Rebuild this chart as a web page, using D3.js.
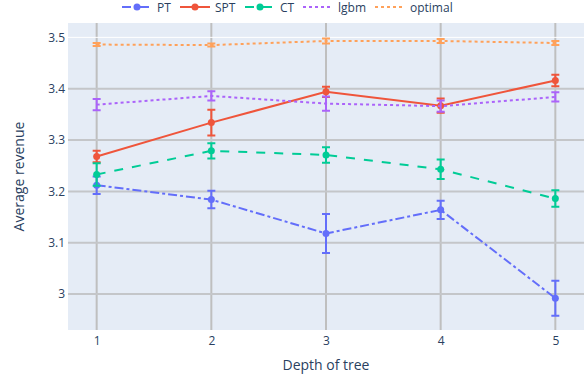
<!DOCTYPE html>
<html>
<head>
<meta charset="utf-8">
<script src="https://cdn.jsdelivr.net/npm/d3@7"></script>
<style>
  body { margin: 0; background: #fff; }
  svg text { font-family: "Open Sans", sans-serif; fill: #2a3f5f; }
</style>
</head>
<body>
<svg width="584" height="377"></svg>
<script>
// depth of tree on x, average revenue on y
var depth = [1, 2, 3, 4, 5];

var ptVals = [3.212, 3.184, 3.118, 3.164, 2.992];
var ptErr = [0.017, 0.017, 0.038, 0.018, 0.034];
var sptVals = [3.268, 3.334, 3.394, 3.367, 3.416];
var sptErr = [0.011, 0.025, 0.010, 0.014, 0.011];
var ctVals = [3.233, 3.279, 3.271, 3.243, 3.186];
var ctErr = [0.022, 0.015, 0.015, 0.019, 0.016];
var lgbmVals = [3.369, 3.386, 3.371, 3.366, 3.384];
var lgbmErr = [0.011, 0.009, 0.014, 0.011, 0.009];
var optVals = [3.486, 3.485, 3.493, 3.493, 3.489];
var optErr = [0.003, 0.003, 0.005, 0.004, 0.004];

var yTicks = [3, 3.1, 3.2, 3.3, 3.4, 3.5];

var series = [
  {name: "PT", vals: ptVals, err: ptErr, color: "#636efa", dash: "9,3,3,3", marker: true},
  {name: "SPT", vals: sptVals, err: sptErr, color: "#EF553B", dash: null, marker: true},
  {name: "CT", vals: ctVals, err: ctErr, color: "#00cc96", dash: "9,9", marker: true},
  {name: "lgbm", vals: lgbmVals, err: lgbmErr, color: "#ab63fa", dash: "3,3", marker: false},
  {name: "optimal", vals: optVals, err: optErr, color: "#FFA15A", dash: "3,3", marker: false}
];
// legend item offsets (px)
var legendX = [0, 58, 123, 181, 253];

var svg = d3.select("svg"),
    margin = {top: 23, right: 0, bottom: 47, left: 68},
    width = +svg.attr("width") - margin.left - margin.right,
    height = +svg.attr("height") - margin.top - margin.bottom;

var x = d3.scaleLinear().domain([0.75, 5.25]).range([0, width]);
var y = d3.scaleLinear().domain([2.93, 3.528]).range([height, 0]);

var g = svg.append("g")
    .attr("transform", "translate(" + margin.left + "," + margin.top + ")");

g.append("rect")
    .attr("width", width)
    .attr("height", height)
    .attr("fill", "#E5ECF6");

// grid
g.selectAll(".vgrid")
    .data(depth)
  .enter().append("line")
    .attr("x1", function(d) { return x(d); })
    .attr("x2", function(d) { return x(d); })
    .attr("y1", 0)
    .attr("y2", height)
    .attr("stroke", "#bfbfbf")
    .attr("stroke-width", 2);

g.selectAll(".hgrid")
    .data(yTicks)
  .enter().append("line")
    .attr("x1", 0)
    .attr("x2", width)
    .attr("y1", function(d) { return y(d); })
    .attr("y2", function(d) { return y(d); })
    .attr("stroke", function(d) { return d === 3.5 ? "#ffffff" : "#c4c6c9"; })
    .attr("stroke-width", function(d) { return d === 3.5 ? 1 : 2; });

// axes (labels only)
var xAxis = g.append("g")
    .attr("transform", "translate(0," + height + ")")
    .call(d3.axisBottom(x).tickValues(depth).tickSize(0).tickPadding(6).tickFormat(d3.format("d")));
xAxis.select(".domain").remove();

var yAxis = g.append("g")
    .call(d3.axisLeft(y).tickValues(yTicks).tickSize(0).tickPadding(3)
      .tickFormat(function(d) { return d === 3 ? "3" : d3.format(".1f")(d); }));
yAxis.select(".domain").remove();

svg.selectAll(".tick text")
    .attr("font-size", "12px")
    .attr("font-family", "'Open Sans', sans-serif")
    .attr("fill", "#2a3f5f");

svg.append("text")
    .attr("x", margin.left + width / 2)
    .attr("y", 370)
    .attr("text-anchor", "middle")
    .attr("font-size", "14px")
    .text("Depth of tree");

svg.append("text")
    .attr("transform", "translate(24," + (margin.top + height / 2) + ") rotate(-90)")
    .attr("text-anchor", "middle")
    .attr("font-size", "14px")
    .text("Average revenue");

var line = d3.line()
    .x(function(d, i) { return x(depth[i]); })
    .y(function(d) { return y(d); });

series.forEach(function(s) {
  var sg = g.append("g");

  sg.selectAll(".err")
      .data(s.vals)
    .enter().append("path")
      .attr("d", function(d, i) {
        var cx = x(depth[i]), y0 = y(d - s.err[i]), y1 = y(d + s.err[i]);
        return "M" + (cx - 4) + "," + y1 + "H" + (cx + 4) +
               "M" + cx + "," + y1 + "V" + y0 +
               "M" + (cx - 4) + "," + y0 + "H" + (cx + 4);
      })
      .attr("fill", "none")
      .attr("stroke", s.color)
      .attr("stroke-width", 2);

  sg.append("path")
      .datum(s.vals)
      .attr("d", line)
      .attr("fill", "none")
      .attr("stroke", s.color)
      .attr("stroke-width", 2)
      .attr("stroke-dasharray", s.dash);

  if (s.marker) {
    sg.selectAll("circle")
        .data(s.vals)
      .enter().append("circle")
        .attr("cx", function(d, i) { return x(depth[i]); })
        .attr("cy", function(d) { return y(d); })
        .attr("r", 3.5)
        .attr("fill", s.color);
  }
});

// legend
var leg = svg.append("g").attr("transform", "translate(117,7)");
series.forEach(function(s, i) {
  var item = leg.append("g").attr("transform", "translate(" + legendX[i] + ",0)");
  item.append("line")
      .attr("x1", 5).attr("x2", 35)
      .attr("y1", 0).attr("y2", 0)
      .attr("stroke", s.color)
      .attr("stroke-width", 2)
      .attr("stroke-dasharray", s.dash);
  if (s.marker) {
    item.append("circle").attr("cx", 20).attr("cy", 0).attr("r", 3.5).attr("fill", s.color);
  }
  item.append("text")
      .attr("x", 40)
      .attr("y", 4.5)
      .attr("font-size", "12px")
      .text(s.name);
});
</script>
</body>
</html>
